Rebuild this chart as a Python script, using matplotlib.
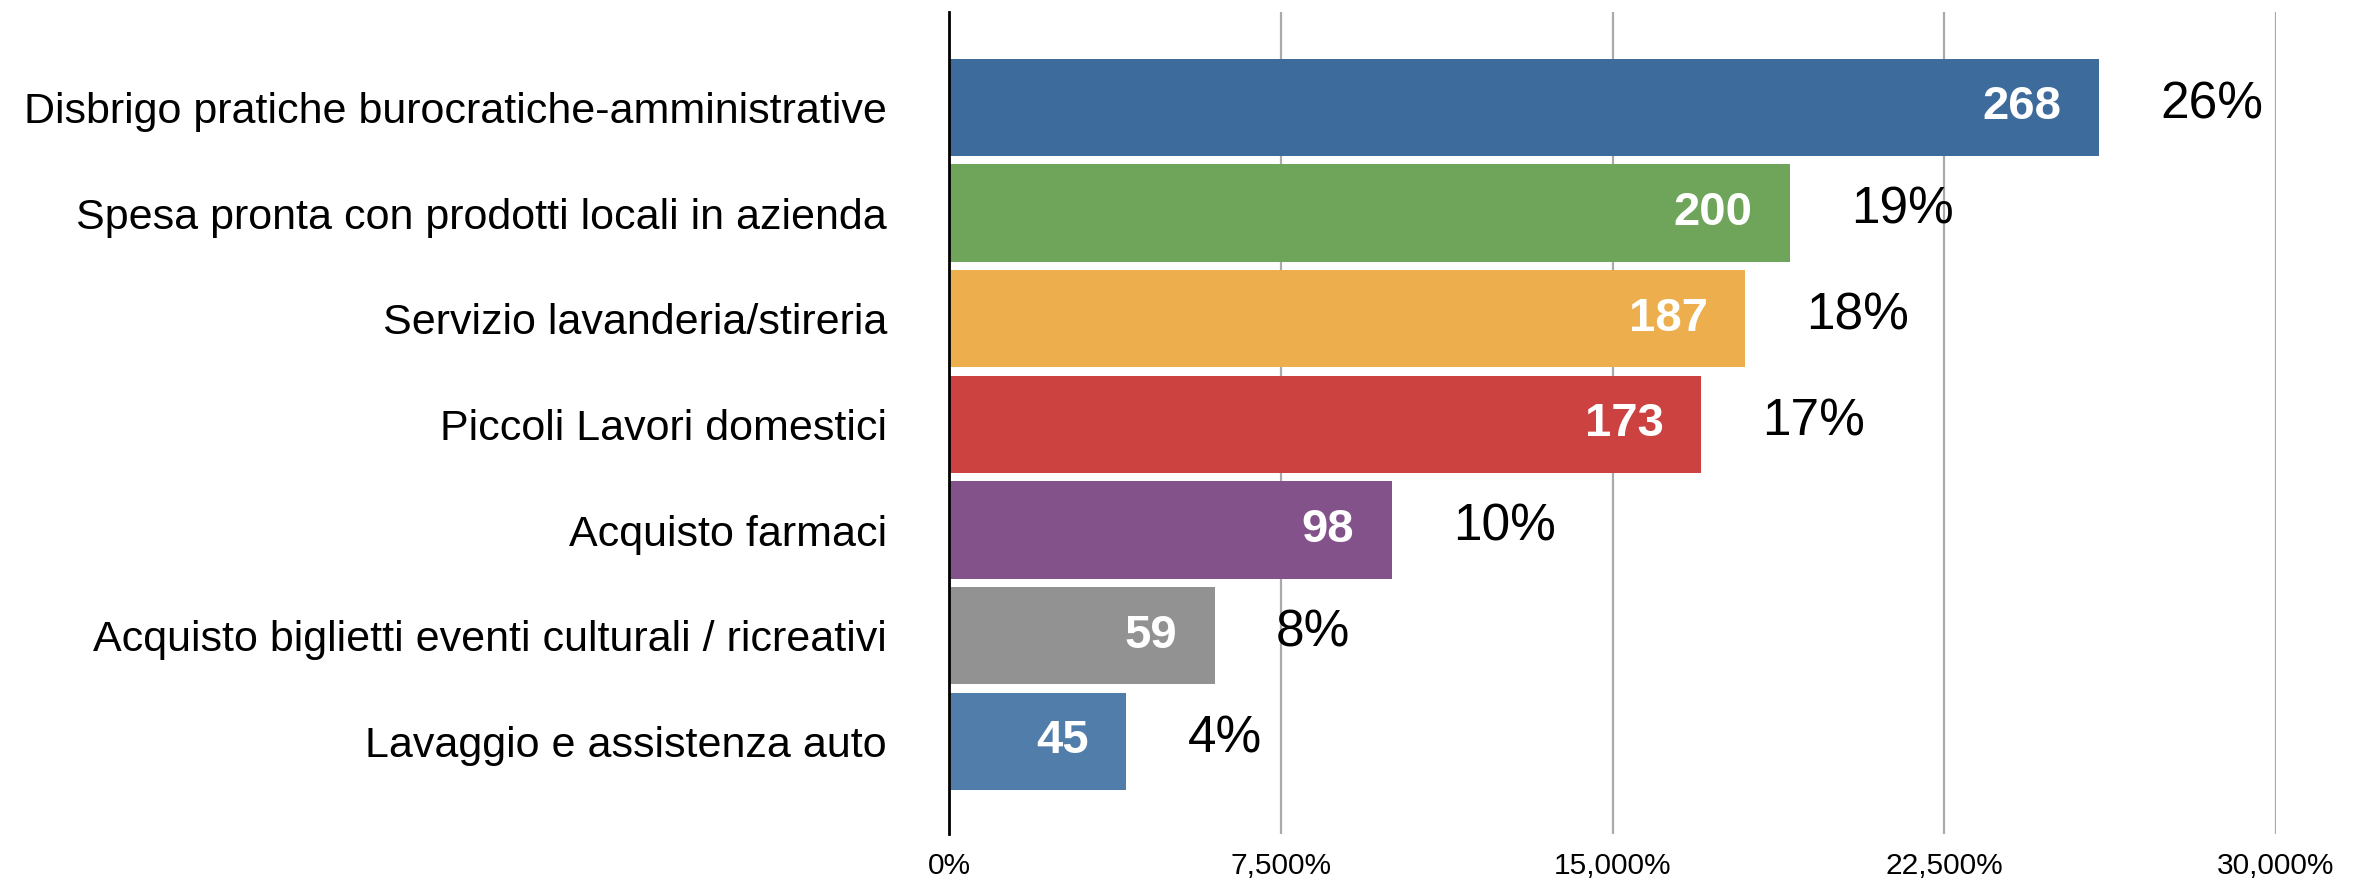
import matplotlib

matplotlib.use("Agg")
import matplotlib.pyplot as plt

CATEGORIES = [
    "Disbrigo pratiche burocratiche-amministrative",
    "Spesa pronta con prodotti locali in azienda",
    "Servizio lavanderia/stireria",
    "Piccoli Lavori domestici",
    "Acquisto farmaci",
    "Acquisto biglietti eventi culturali / ricreativi",
    "Lavaggio e assistenza auto",
]
COUNTS = [268, 200, 187, 173, 98, 59, 45]
BAR_PCT = [26, 19, 18, 17, 10, 6, 4]
PCT_LABELS = ["26%", "19%", "18%", "17%", "10%", "8%", "4%"]
XTICKS = [0, 7.5, 15, 22.5, 30]
XTICK_LABELS = ["0%", "7,500%", "15,000%", "22,500%", "30,000%"]
COLORS = ["#3D6C9C", "#6EA55A", "#EDAF4D", "#CB4240", "#84528B", "#919291", "#507DAA"]

plt.rcParams["font.family"] = ["Liberation Sans", "DejaVu Sans"]

fig = plt.figure(figsize=(23.56, 8.81), dpi=100)
ax = fig.add_axes([0.403, 0.053, 0.563, 0.933])

y = list(range(len(CATEGORIES)))
ax.barh(y, BAR_PCT, height=0.92, color=COLORS, zorder=2)

for yi, pct, count, label in zip(y, BAR_PCT, COUNTS, PCT_LABELS):
    ax.annotate(str(count), (pct, yi), xytext=(-27, 0), textcoords="offset points",
                ha="right", va="center", color="white", fontsize=34, fontweight="bold", zorder=3)
    ax.annotate(label, (pct, yi), xytext=(44, 2), textcoords="offset points",
                ha="left", va="center", color="black", fontsize=37, zorder=3)

ax.set_xlim(0, 30)
ax.set_ylim(6.88, -0.9)
ax.set_yticks(y)
ax.set_yticklabels(CATEGORIES, fontsize=31)
ax.set_xticks(XTICKS)
ax.set_xticklabels(XTICK_LABELS, fontsize=21.5)
ax.tick_params(axis="both", length=0)
ax.tick_params(axis="y", pad=45)
ax.tick_params(axis="x", pad=13)

ax.grid(axis="x", color="#AAAAAA", linewidth=1.6, zorder=0)
ax.set_axisbelow(True)
for side in ["top", "right", "bottom"]:
    ax.spines[side].set_visible(False)
ax.spines["left"].set_color("black")
ax.spines["left"].set_linewidth(2)
ax.spines["left"].set_zorder(4)

fig.savefig("out.png", dpi=100)
